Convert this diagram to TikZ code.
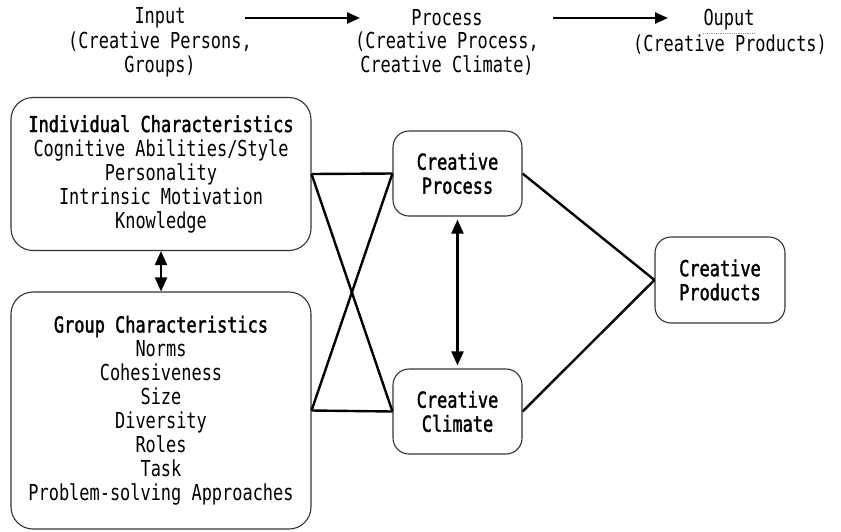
\documentclass[tikz,border=0pt]{standalone}
\usepackage{fontspec}
\setmainfont[FakeStretch=0.77]{DejaVu Sans Mono}
\newfontfamily\semib[FakeStretch=0.77,FakeBold=1.6]{DejaVu Sans Mono}
\usetikzlibrary{arrows.meta,calc}
\begin{document}
\begin{tikzpicture}[x=1pt,y=-1pt,
  txt/.style={font=\fontsize{22}{24}\selectfont, align=center, inner sep=0pt},
  box/.style={txt, draw=black!80, line width=1.1pt, rounded corners=22pt},
  conn/.style={line width=2.4pt, black},
  dbl/.style={line width=2.2pt, {Triangle[length=14pt,width=12pt]}-{Triangle[length=14pt,width=12pt]}},
  flow/.style={line width=2.4pt, -{Triangle[length=13pt,width=11pt]}}]
\useasboundingbox (0,0) rectangle (841,531);
% top row
\node[txt] (tin) at (160,18) {Input};
\node[txt] (tinsub) at (160,54) {(Creative Persons,\\Groups)};
\node[txt] (tpr) at (447,18) {Process};
\node[txt] (tprsub) at (447,54) {(Creative Process,\\Creative Climate)};
\node[txt] (tout) at (729,20) {Ouput};
\node[txt] (toutsub) at (730,45) {(Creative Products)};
\draw[densely dotted, line width=0.8pt, black!40] ($(tout.south west)+(0,3)$) coordinate (u1) -- ($(tout.south east)+(0,3)$) coordinate (u2);
\coordinate (a1s) at (245,18);
\coordinate (a1e) at (360,18);
\coordinate (a2s) at (553,18);
\coordinate (a2e) at (668,18);
\draw[flow] (a1s) -- (a1e);
\draw[flow] (a2s) -- (a2e);
% boxes
\node[box, minimum width=300pt, minimum height=153pt] (ind) at (161,174)
  {{\semib Individual Characteristics}\\Cognitive Abilities/Style\\Personality\\Intrinsic Motivation\\Knowledge};
\node[box, minimum width=300pt, minimum height=237pt] (grp) at (161,410.5)
  {{\semib Group Characteristics}\\Norms\\Cohesiveness\\Size\\Diversity\\Roles\\Task\\Problem-solving Approaches};
\node[box, rounded corners=16pt, minimum width=129pt, minimum height=85pt, font=\fontsize{22}{24}\semib] (proc) at (457.5,173.5)
  {Creative\\Process};
\node[box, rounded corners=16pt, minimum width=129pt, minimum height=85pt, font=\fontsize{22}{24}\semib] (clim) at (457.5,411.5)
  {Creative\\Climate};
\node[box, rounded corners=16pt, minimum width=130pt, minimum height=86pt, font=\fontsize{22}{24}\semib] (prod) at (720,280)
  {Creative\\Products};
% connectors
\draw[conn] (ind.east) -- (proc.west);
\draw[conn] (ind.east) -- (clim.west);
\draw[conn] (grp.east) -- (clim.west);
\draw[conn] (grp.east) -- (proc.west);
\draw[conn] (proc.east) -- (prod.west);
\draw[conn] (clim.east) -- (prod.west);
\draw[dbl, shorten <=3pt, shorten >=3pt] (proc.south) -- (clim.north);
\draw[dbl] (ind.south) -- (grp.north);
\end{tikzpicture}
\end{document}
